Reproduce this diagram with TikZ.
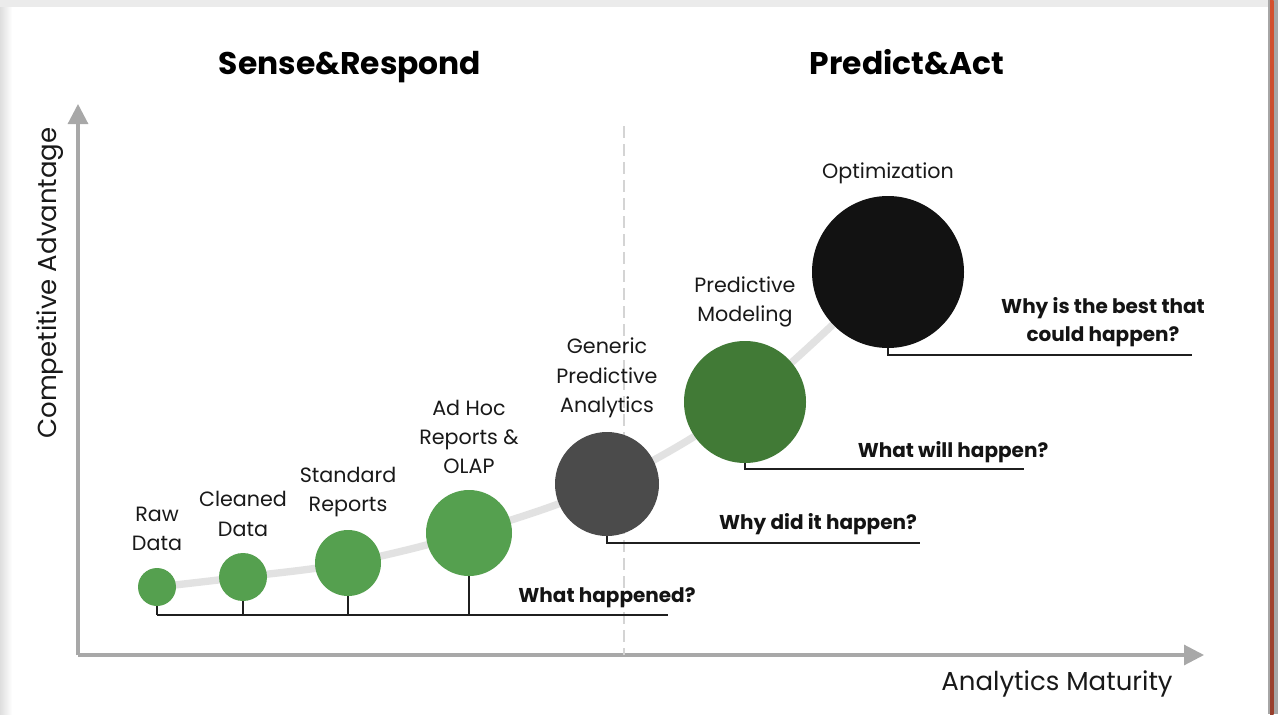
\documentclass[tikz,border=0pt]{standalone}
\usepackage{fontspec}
\setmainfont{Poppins}
\usetikzlibrary{arrows.meta}
\definecolor{axisgray}{HTML}{A8A8A8}
\definecolor{curvegray}{HTML}{E2E2E2}
\definecolor{dashgray}{HTML}{D4D4D4}
\definecolor{lightgreen}{HTML}{55A04F}
\definecolor{darkgreen}{HTML}{417A36}
\definecolor{stonegray}{HTML}{4B4B4B}
\definecolor{nearblack}{HTML}{121212}
\definecolor{edgered}{HTML}{D4502E}
\definecolor{edgebrown}{HTML}{983F2D}
\tikzset{
  stage/.style={circle, inner sep=0pt, draw=none},
  stagelabel/.style={font=\fontsize{15.5}{22}\selectfont, align=center, text=black!90},
  question/.style={font=\fontsize{15}{21.5}\selectfont\bfseries, align=center, text=black!92},
  title/.style={font=\fontsize{23.5}{28}\selectfont\bfseries, anchor=base},
  axislabel/.style={font=\fontsize{19.5}{22}\selectfont, text=black!90},
  axis/.style={draw=axisgray, line width=2.3pt, -{Triangle[length=15pt,width=15pt]}},
  stem/.style={draw=black!88, line width=1.3pt},
  trend/.style={draw=curvegray, line width=5.5pt, line cap=round}
}
\begin{document}
\begin{tikzpicture}[x=0.75pt,y=-0.75pt]
\useasboundingbox (0,0) rectangle (1278,714);
% window edges
\fill[white] (0,0) rectangle (1278,714);
\shade[left color=black!13, right color=white] (0,0) rectangle (12,714);
\fill[black!8] (0,0) rectangle (1268,7);
\fill[black!35] (1268,0) rectangle (1278,714);
\shade[top color=edgered, bottom color=edgebrown] (1270,0) rectangle (1273.5,714);

% headings
\node[title] (sr) at (350,74) {Sense\&Respond};
\node[title] (pa) at (907,74) {Predict\&Act};

% axes
\coordinate (origin) at (78,655);
\coordinate (ytip) at (78,104);
\coordinate (xtip) at (1204,655);
\draw[axis] (origin) -- (ytip);
\draw[axis] (origin) -- (xtip);
\node[axislabel, rotate=90] (ylab) at (50,283) {Competitive Advantage};
\node[axislabel] (xlab) at (1057,684) {Analytics Maturity};

% divider between the two phases
\coordinate (divtop) at (624,126);
\coordinate (divbot) at (624,655);
\draw[dashgray, line width=2.2pt, dash pattern=on 9pt off 4.5pt] (divtop) -- (divbot);

% stage positions
\coordinate (c1) at (157,587);
\coordinate (c2) at (243,577);
\coordinate (c3) at (348,563);
\coordinate (c4) at (469,533);
\coordinate (c5) at (607,484);
\coordinate (c6) at (745,402);
\coordinate (c7) at (888,272);

% maturity trend behind the stages
\draw[trend] plot[smooth, tension=0.55] coordinates {(c1) (c2) (c3) (c4) (c5) (c6) (c7)};

% stages
\node[stage, fill=lightgreen, minimum size=28.5pt] (raw) at (c1) {};
\node[stage, fill=lightgreen, minimum size=36pt] (clean) at (c2) {};
\node[stage, fill=lightgreen, minimum size=49.5pt] (std) at (c3) {};
\node[stage, fill=lightgreen, minimum size=64.5pt] (adhoc) at (c4) {};
\node[stage, fill=stonegray, minimum size=78pt] (generic) at (c5) {};
\node[stage, fill=darkgreen, minimum size=91.5pt] (model) at (c6) {};
\node[stage, fill=nearblack, minimum size=114pt] (optim) at (c7) {};

% stage labels
\node[stagelabel] (lraw) at (157,529) {Raw\\Data};
\node[stagelabel] (lclean) at (243,514) {Cleaned\\Data};
\node[stagelabel] (lstd) at (348,492) {Standard\\Reports};
\node[stagelabel] (ladhoc) at (469,437) {Ad Hoc\\Reports \&\\OLAP};
\node[stagelabel] (lgeneric) at (607,378) {Generic\\Predictive\\Analytics};
\node[stagelabel] (lmodel) at (745,302) {Predictive\\Modeling};
\node[stagelabel] (loptim) at (888,173) {Optimization};

% descriptive level: shared baseline
\coordinate (b1) at (157,615);
\coordinate (b2) at (243,615);
\coordinate (b3) at (348,615);
\coordinate (b4) at (469,615);
\coordinate (bend) at (668,615);
\draw[stem] (b1) -- (bend);
\draw[stem] (raw.south) -- (b1);
\draw[stem] (clean.south) -- (b2);
\draw[stem] (std.south) -- (b3);
\draw[stem] (adhoc.south) -- (b4);
\node[question] (q1) at (607,598) {What happened?};

% diagnostic level
\coordinate (g1) at (607,543);
\coordinate (gend) at (920,543);
\draw[stem] (generic.south) -- (g1) -- (gend);
\node[question] (q2) at (818,524) {Why did it happen?};

% predictive level
\coordinate (m1) at (745,469);
\coordinate (mend) at (1024,469);
\draw[stem] (model.south) -- (m1) -- (mend);
\node[question] (q3) at (953,452) {What will happen?};

% prescriptive level
\coordinate (o1) at (888,355);
\coordinate (oend) at (1192,355);
\draw[stem] (optim.south) -- (o1) -- (oend);
\node[question] (q4) at (1103,322) {Why is the best that\\could happen?};
\end{tikzpicture}
\end{document}
